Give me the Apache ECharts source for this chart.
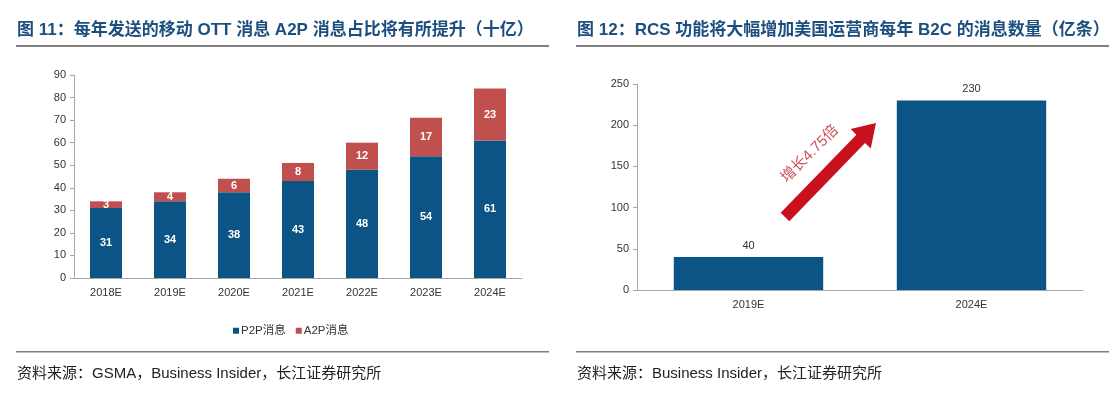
<!DOCTYPE html>
<html><head><meta charset="utf-8">
<script src="https://cdn.jsdelivr.net/npm/echarts@6/dist/echarts.min.js"></script>
<style>html,body{margin:0;padding:0;background:#fff}#c{width:1120px;height:394px}</style>
</head><body><div id="c"></div>
<script>
const FONT = "'Liberation Sans','Noto Sans CJK SC',sans-serif";
// Left chart data
const leftCategories = ['2018E','2019E','2020E','2021E','2022E','2023E','2024E'];
const p2pValues = [31,34,38,43,48,54,61];
const a2pValues = [3,4,6,8,12,17,23];
const leftSeriesNames = ['P2P消息','A2P消息'];
// Right chart data
const rightCategories = ['2019E','2024E'];
const rcsValues = [40,230];
const arrowLabel = '增长4.75倍';
const leftTitle = '图 11：每年发送的移动 OTT 消息 A2P 消息占比将有所提升（十亿）';
const rightTitle = '图 12：RCS 功能将大幅增加美国运营商每年 B2C 的消息数量（亿条）';
const leftSource = '资料来源：GSMA，Business Insider，长江证券研究所';
const rightSource = '资料来源：Business Insider，长江证券研究所';

const BLUE = '#0c5485', RED = '#c0504d', ARROW = '#c8101e', TITLE = '#1c4f7f';

function arrowPoints(tail, tip, hw, headLen, headHw){
  const dx = tip[0]-tail[0], dy = tip[1]-tail[1];
  const L = Math.hypot(dx,dy); const ux = dx/L, uy = dy/L; const nx = -uy, ny = ux;
  const neck = [tip[0]-ux*headLen, tip[1]-uy*headLen];
  return [
    [tail[0]+nx*hw, tail[1]+ny*hw],
    [neck[0]+nx*hw, neck[1]+ny*hw],
    [neck[0]+nx*headHw, neck[1]+ny*headHw],
    tip,
    [neck[0]-nx*headHw, neck[1]-ny*headHw],
    [neck[0]-nx*hw, neck[1]-ny*hw],
    [tail[0]-nx*hw, tail[1]-ny*hw]
  ];
}

const axisLabel = {color:'#333', fontSize:11, fontFamily:FONT};
const axisLine = {show:true, lineStyle:{color:'#a6a6a6', width:1}};

const chart = echarts.init(document.getElementById('c'), null, {renderer:'canvas'});
chart.setOption({
  animation:false,
  textStyle:{fontFamily:FONT},
  title:[
    {text:leftTitle, left:12, top:17, textStyle:{color:TITLE, fontSize:17, fontWeight:'bold', fontFamily:FONT}},
    {text:rightTitle, left:572, top:17, textStyle:{color:TITLE, fontSize:17, fontWeight:'bold', fontFamily:FONT}},
    {text:leftSource, left:12, top:361, textStyle:{color:'#222', fontSize:15, fontWeight:'normal', fontFamily:FONT}},
    {text:rightSource, left:572, top:361, textStyle:{color:'#222', fontSize:15, fontWeight:'normal', fontFamily:FONT}}
  ],
  legend:{
    data:leftSeriesNames, left:228, top:320, icon:'rect', itemWidth:6, itemHeight:6, itemGap:10,
    textStyle:{color:'#333', fontSize:11.5, fontFamily:FONT, padding:[0,0,0,-3]}
  },
  grid:[
    {left:74, right:1120-522, top:75, bottom:394-278, containLabel:false},
    {left:637, right:1120-1083, top:84, bottom:394-290, containLabel:false}
  ],
  xAxis:[
    {type:'category', gridIndex:0, data:leftCategories, axisLine:axisLine, axisTick:{show:false},
     axisLabel:Object.assign({margin:9}, axisLabel)},
    {type:'category', gridIndex:1, data:rightCategories, axisLine:axisLine, axisTick:{show:false},
     axisLabel:Object.assign({margin:9}, axisLabel)}
  ],
  yAxis:[
    {type:'value', gridIndex:0, min:0, max:90, interval:10, axisLine:axisLine,
     axisTick:{show:true, length:4, lineStyle:{color:'#a6a6a6'}}, splitLine:{show:false},
     axisLabel:Object.assign({margin:8}, axisLabel)},
    {type:'value', gridIndex:1, min:0, max:250, interval:50, axisLine:axisLine,
     axisTick:{show:true, length:4, lineStyle:{color:'#a6a6a6'}}, splitLine:{show:false},
     axisLabel:Object.assign({margin:8}, axisLabel)}
  ],
  series:[
    {name:leftSeriesNames[0], type:'bar', stack:'a', xAxisIndex:0, yAxisIndex:0, data:p2pValues, barWidth:'50%',
     itemStyle:{color:BLUE},
     label:{show:true, position:'inside', color:'#fff', fontWeight:'bold', fontSize:11, fontFamily:FONT}},
    {name:leftSeriesNames[1], type:'bar', stack:'a', xAxisIndex:0, yAxisIndex:0, data:a2pValues, barWidth:'50%',
     itemStyle:{color:RED},
     label:{show:true, position:'inside', color:'#fff', fontWeight:'bold', fontSize:11, fontFamily:FONT}},
    {name:'RCS', type:'bar', xAxisIndex:1, yAxisIndex:1, data:rcsValues, barWidth:'67%',
     itemStyle:{color:BLUE},
     label:{show:true, position:'top', distance:6, color:'#333', fontSize:11, fontFamily:FONT}}
  ],
  graphic:[
    {type:'rect', shape:{x:16, y:45, width:533, height:2}, style:{fill:'#7f7f7f'}},
    {type:'rect', shape:{x:576, y:45, width:533, height:2}, style:{fill:'#7f7f7f'}},
    {type:'rect', shape:{x:16, y:351, width:533, height:1.5}, style:{fill:'#7f7f7f'}},
    {type:'rect', shape:{x:576, y:351, width:533, height:1.5}, style:{fill:'#7f7f7f'}},
    {type:'polygon', shape:{points:arrowPoints([785,217],[876,123],6,22,14)}, style:{fill:ARROW}},
    {type:'text', x:810, y:154, rotation:Math.PI/4, originX:0, originY:0,
     style:{text:arrowLabel, fill:'#d0505a', font:'15px '+FONT, textAlign:'center', textVerticalAlign:'middle'}}
  ]
});
</script></body></html>
